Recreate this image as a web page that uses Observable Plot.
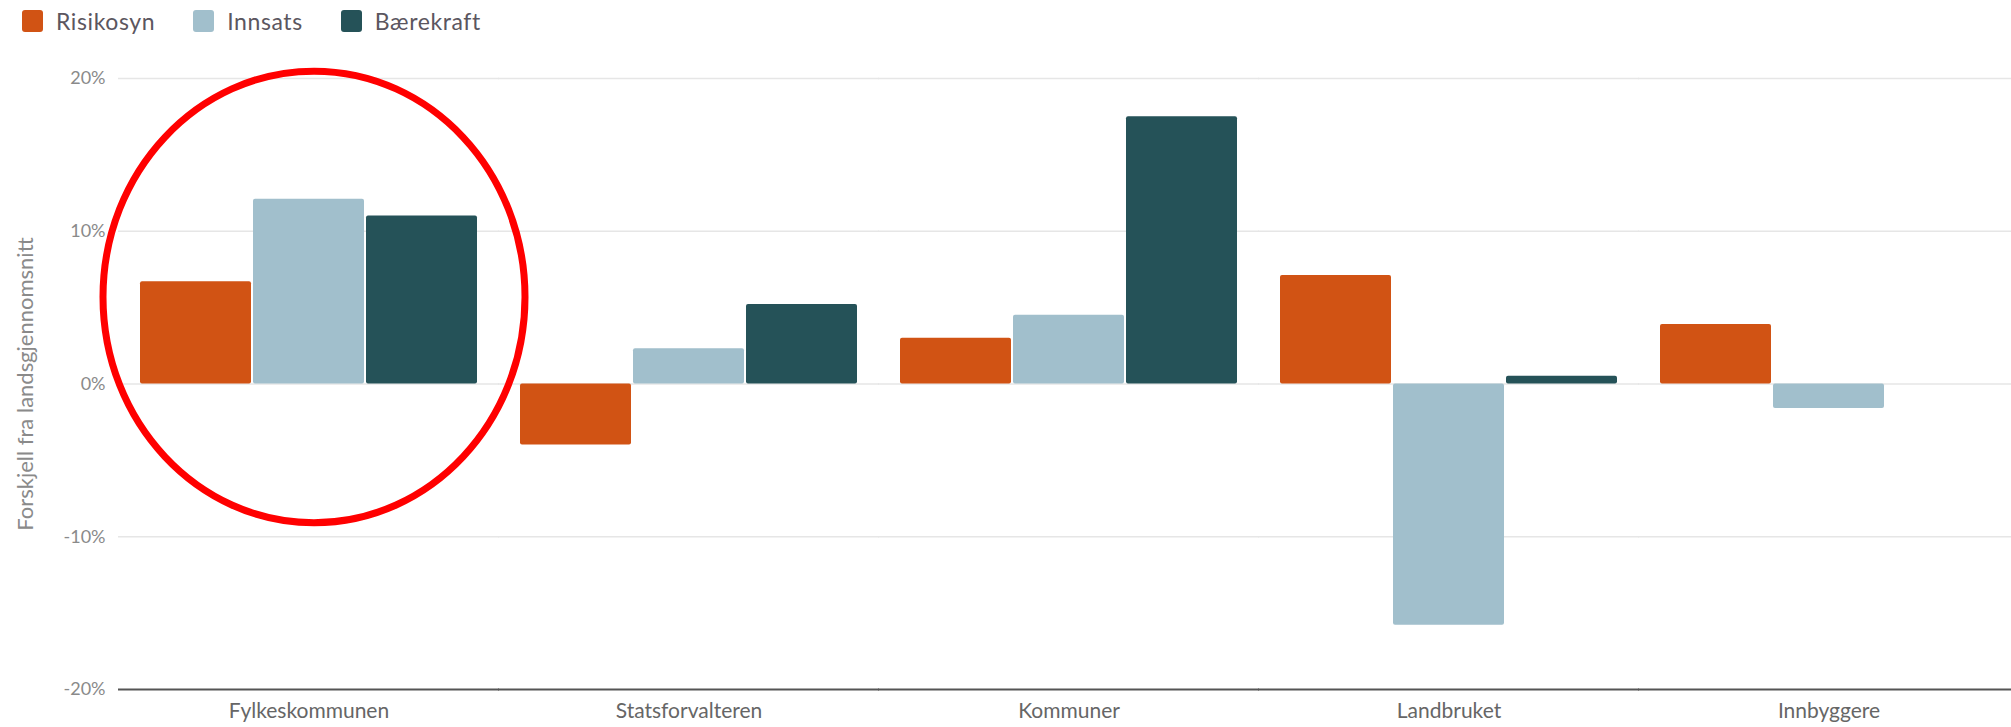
<!DOCTYPE html>
<html>
<head>
<meta charset="utf-8">
<script src="https://cdn.jsdelivr.net/npm/d3@7"></script>
<script src="https://cdn.jsdelivr.net/npm/@observablehq/plot@0.6"></script>
<style>
  html, body { margin: 0; padding: 0; background: #fff; }
  body { width: 2011px; height: 727px; overflow: hidden; font-family: Lato, "Noto Sans", sans-serif; }
  #legend { height: 45px; box-sizing: border-box; display: flex; align-items: flex-start; padding: 10px 0 0 22px; }
  .item { display: flex; align-items: center; margin-right: 38px; }
  .sw { width: 21px; height: 22px; border-radius: 3px; margin-right: 13px; }
  .lab { font-size: 23px; letter-spacing: 0.6px; color: #5b5660; line-height: 22px; }
  svg { display: block; }
</style>
</head>
<body>
<div id="legend"></div>
<div id="chart"></div>
<script>
const categories = ["Fylkeskommunen", "Statsforvalteren", "Kommuner", "Landbruket", "Innbyggere"];
const seriesNames = ["Risikosyn", "Innsats", "Bærekraft"];
const risikosyn = [6.7, -4.0, 3.0, 7.1, 3.9];
const innsats = [12.1, 2.3, 4.5, -15.8, -1.6];
const baerekraft = [11.0, 5.2, 17.5, 0.5, null];
const colors = ["#d15314", "#a1bfcc", "#255258"];
const yTicks = [-20, -10, 0, 10, 20];
const yTitle = "Forskjell fra landsgjennomsnitt";
const highlight = [{category: "Fylkeskommunen", value: 5.7}];

const seriesValues = [risikosyn, innsats, baerekraft];
const data = [];
categories.forEach((c, i) => {
  seriesNames.forEach((s, j) => {
    const v = seriesValues[j][i];
    if (v != null) data.push({category: c, series: s, value: v});
  });
});

// legend
const legend = document.getElementById("legend");
seriesNames.forEach((s, j) => {
  const it = document.createElement("div");
  it.className = "item";
  it.innerHTML = `<div class="sw" style="background:${colors[j]}"></div><span class="lab">${s}</span>`;
  legend.appendChild(it);
});

// ellipse symbol for the highlight ring
const ellipseRatio = 1.07;
const ellipse = {
  draw(ctx, size) {
    const rx = Math.sqrt(size / Math.PI), ry = rx * ellipseRatio, k = 0.5523;
    ctx.moveTo(rx, 0);
    ctx.bezierCurveTo(rx, ry * k, rx * k, ry, 0, ry);
    ctx.bezierCurveTo(-rx * k, ry, -rx, ry * k, -rx, 0);
    ctx.bezierCurveTo(-rx, -ry * k, -rx * k, -ry, 0, -ry);
    ctx.bezierCurveTo(rx * k, -ry, rx, -ry * k, rx, 0);
    ctx.closePath();
  }
};

const halfGap = -21; // rules extend across the gaps between facet groups
const first = () => categories[0];

const chart = Plot.plot({
  width: 2011,
  height: 682,
  marginLeft: 117,
  marginRight: -9,
  marginTop: 33,
  marginBottom: 38,
  style: {fontFamily: "Lato, 'Noto Sans', sans-serif", background: "#fff"},
  fx: {domain: categories, paddingInner: 0.107, paddingOuter: 0.0535, axis: null, label: null},
  x: {domain: seriesNames, paddingInner: 0.02, paddingOuter: 0, axis: null},
  y: {domain: [-20, 20], axis: null},
  color: {domain: seriesNames, range: colors},
  marks: [
    Plot.ruleY(yTicks.filter(d => d > -20), {y: d => d, stroke: "#e6e6e6", strokeWidth: 1.5, insetLeft: halfGap, insetRight: halfGap}),
    Plot.barY(data, {fx: "category", x: "series", y: "value", fill: "series", rx: 2}),
    Plot.ruleY([-20], {y: d => d, stroke: "#555", strokeWidth: 1.8, insetLeft: halfGap, insetRight: halfGap}),
    Plot.text(yTicks, {fx: first, y: d => d, text: d => `${d}%`, frameAnchor: "left", textAnchor: "end", dx: -34, fontSize: 18, fill: "#8a8a8a"}),
    Plot.text([yTitle], {fx: first, text: d => d, frameAnchor: "left", textAnchor: "middle", rotate: -90, dx: -114, fontSize: 22, letterSpacing: "0.5px", fill: "#8a8a8a"}),
    Plot.axisFx({anchor: "bottom", tickSize: 0, tickPadding: 14, fontSize: 21, label: null, color: "#666"}),
    Plot.dot(highlight, {fx: "category", y: "value", r: 211, symbol: ellipse, dx: 5, stroke: "#ff0000", strokeWidth: 7, fill: "none"})
  ]
});
document.getElementById("chart").appendChild(chart);
</script>
</body>
</html>
